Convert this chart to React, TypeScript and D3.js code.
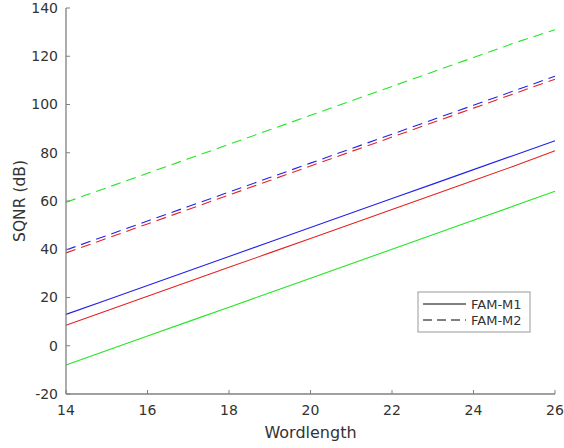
import React from "react";
import * as d3 from "d3";

const wordlengths = [14, 15, 16, 17, 18, 19, 20, 21, 22, 23, 24, 25, 26];
const blueM1 = [13, 19, 25, 31, 37, 43, 49, 55, 61, 67, 73, 79, 85];
const redM1 = [8.5, 14.5, 20.5, 26.5, 32.5, 38.5, 44.5, 50.5, 56.5, 62.5, 68.5, 74.5, 80.8];
const greenM1 = [-8, -2, 4, 10, 16, 22, 28, 34, 40, 46, 52, 58, 64];
const greenM2 = [59.5, 65.5, 71.5, 77.5, 83.5, 89.5, 95.5, 101.5, 107.5, 113.5, 119.5, 125.5, 131];
const blueM2 = [39.7, 45.7, 51.7, 57.7, 63.7, 69.7, 75.7, 81.7, 87.7, 93.7, 99.7, 105.7, 111.7];
const redM2 = [38.5, 44.5, 50.5, 56.5, 62.5, 68.5, 74.5, 80.5, 86.5, 92.5, 98.5, 104.5, 110.5];
const xTicks = [14, 16, 18, 20, 22, 24, 26];
const yTicks = [-20, 0, 20, 40, 60, 80, 100, 120, 140];
const legendLabels = ["FAM-M1", "FAM-M2"];

const series = [
  { values: greenM2, color: "#22e622", dashed: true },
  { values: blueM2, color: "#2222e6", dashed: true },
  { values: redM2, color: "#e62222", dashed: true },
  { values: blueM1, color: "#2222e6", dashed: false },
  { values: redM1, color: "#e62222", dashed: false },
  { values: greenM1, color: "#22e622", dashed: false },
];

const W = 564;
const H = 448;
const left = 66;
const right = 555;
const top = 8;
const bottom = 394;
const font = "DejaVu Sans";
const axisColor = "#808080";
const textColor = "#333333";

export default function App() {
  const x = d3.scaleLinear().domain([14, 26]).range([left, right]);
  const y = d3.scaleLinear().domain([-20, 140]).range([bottom, top]);
  const line = d3
    .line<number>()
    .x((_, i) => x(wordlengths[i]))
    .y((d) => y(d));

  return (
    <svg
      width={W}
      height={H}
      style={{ position: "absolute", left: 0, top: 0, background: "#fff" }}
      fontFamily={font}
    >
      <rect x={0} y={0} width={W} height={H} fill="#fff" />
      {series.map((s, i) => (
        <path
          key={i}
          d={line(s.values) || ""}
          fill="none"
          stroke={s.color}
          strokeWidth={1.1}
          strokeDasharray={s.dashed ? "10,6" : undefined}
        />
      ))}
      {/* axes */}
      <line x1={left} x2={left} y1={top} y2={bottom} stroke={axisColor} strokeWidth={1.3} />
      <line x1={left} x2={right} y1={bottom} y2={bottom} stroke={axisColor} strokeWidth={1.3} />
      {xTicks.map((t) => (
        <g key={"x" + t}>
          <line x1={x(t)} x2={x(t)} y1={bottom} y2={bottom - 4} stroke={axisColor} strokeWidth={1} />
          <text x={x(t)} y={bottom + 21} textAnchor="middle" fontSize={14} fill={textColor}>
            {t}
          </text>
        </g>
      ))}
      {yTicks.map((t) => (
        <g key={"y" + t}>
          <line x1={left} x2={left + 4} y1={y(t)} y2={y(t)} stroke={axisColor} strokeWidth={1} />
          <text x={left - 8} y={y(t)} dy="0.35em" textAnchor="end" fontSize={14} fill={textColor}>
            {t}
          </text>
        </g>
      ))}
      <text x={x(20)} y={438} textAnchor="middle" fontSize={16} fill={textColor}>
        Wordlength
      </text>
      <text
        transform={`translate(25,${y(60)}) rotate(-90)`}
        textAnchor="middle"
        fontSize={15.5}
        fill={textColor}
      >
        SQNR (dB)
      </text>
      {/* legend */}
      <rect x={418} y={292} width={112} height={40} fill="#fff" stroke="#999" strokeWidth={1} />
      {legendLabels.map((lab, i) => (
        <g key={lab}>
          <line
            x1={423}
            x2={466}
            y1={304 + i * 16}
            y2={304 + i * 16}
            stroke="#000"
            strokeWidth={1}
            strokeDasharray={i === 1 ? "9,5" : undefined}
          />
          <text x={471} y={304 + i * 16} dy="0.35em" fontSize={13} fill={textColor}>
            {lab}
          </text>
        </g>
      ))}
    </svg>
  );
}
